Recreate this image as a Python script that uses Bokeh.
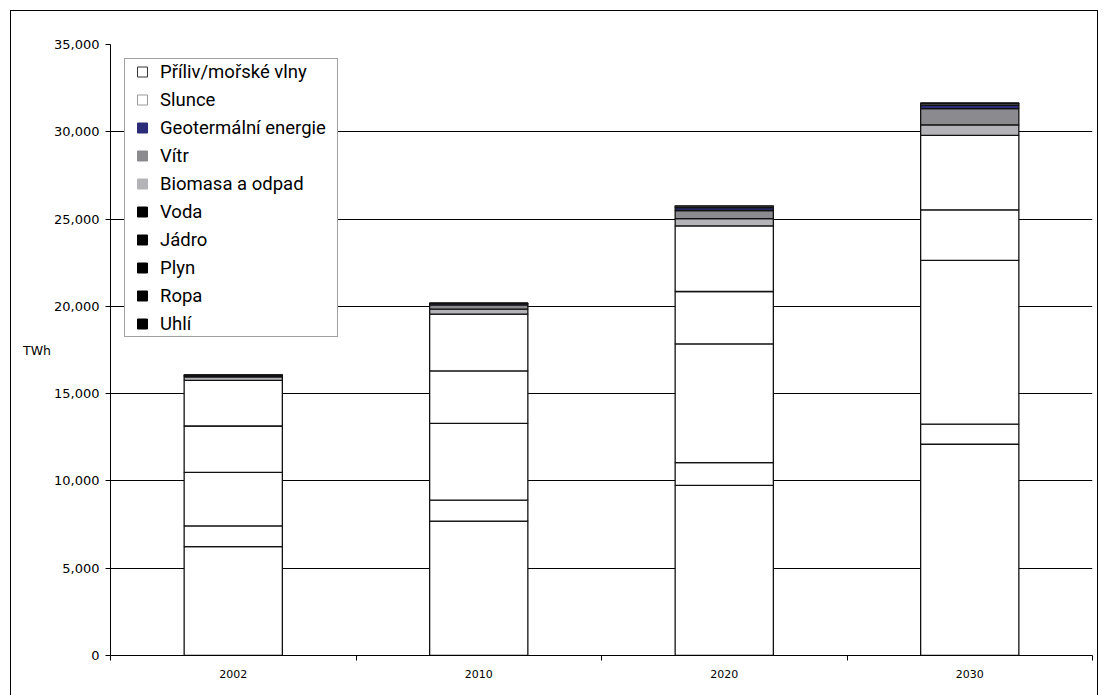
from bokeh.plotting import figure
from bokeh.models import FixedTicker, Legend, LegendItem, NumeralTickFormatter, ColumnDataSource
from bokeh.embed import file_html
from bokeh.resources import INLINE

# World electricity generation by source, TWh
years = ["2002", "2010", "2020", "2030"]
uhli = [6241, 7700, 9750, 12100]
ropa = [1181, 1200, 1300, 1150]
plyn = [3070, 4400, 6800, 9380]
jadro = [2654, 3000, 3000, 2900]
voda = [2610, 3250, 3760, 4270]
biomasa = [207, 290, 410, 600]
vitr = [52, 250, 470, 930]
geotermalni = [50, 80, 170, 200]
slunce = [1, 10, 80, 90]
priliv = [1, 1, 20, 30]

series = ["uhli", "ropa", "plyn", "jadro", "voda", "biomasa", "vitr", "geotermalni", "slunce", "priliv"]
names = ["Uhlí", "Ropa", "Plyn", "Jádro", "Voda", "Biomasa a odpad", "Vítr",
         "Geotermální energie", "Slunce", "Příliv/mořské vlny"]
bar_colors = ["white", "white", "white", "white", "white", "#b4b4b8", "#8b8b8f", "#2b2b78", "white", "white"]
key_colors = ["black", "black", "black", "black", "black", "#b4b4b8", "#8b8b8f", "#2b2b78", "white", "white"]
key_lines = ["black", "black", "black", "black", "black", "#b4b4b8", "#8b8b8f", "#2b2b78", "#999999", "#333333"]

xpos = [i + 0.5 for i in range(len(years))]
source = ColumnDataSource(dict(x=xpos, uhli=uhli, ropa=ropa, plyn=plyn, jadro=jadro, voda=voda,
                               biomasa=biomasa, vitr=vitr, geotermalni=geotermalni,
                               slunce=slunce, priliv=priliv))

p = figure(width=1088, height=686, x_range=(0, 4), y_range=(0, 35000),
           output_backend="svg", toolbar_location=None,
           min_border_left=99, min_border_right=7, min_border_top=33, min_border_bottom=42)
p.margin = (10, 0, 0, 10)
p.styles = {"border": "1px solid black"}
p.outline_line_color = None
p.background_fill_color = "white"

# horizontal grid
p.xgrid.grid_line_color = None
p.ygrid.grid_line_color = "black"
p.ygrid.grid_line_width = 1
p.ygrid.ticker = FixedTicker(ticks=list(range(0, 35001, 5000)))

p.vbar_stack(series, x="x", width=0.4, source=source, fill_color=bar_colors,
             line_color="#111111", line_width=1.3)

# y axis
p.yaxis.ticker = FixedTicker(ticks=list(range(0, 35001, 5000)))
p.yaxis.formatter = NumeralTickFormatter(format="0,0")
p.yaxis.axis_line_color = "black"
p.yaxis.major_tick_out = 5
p.yaxis.major_tick_in = 0
p.yaxis.minor_tick_line_color = None
p.yaxis.major_label_text_font = "DejaVu Sans"
p.yaxis.major_label_text_font_size = "13px"
p.yaxis.major_label_text_color = "black"
p.yaxis.major_label_standoff = 6
p.yaxis.axis_label = "TWh"
p.yaxis.axis_label_orientation = "horizontal"
p.yaxis.axis_label_text_font = "DejaVu Sans"
p.yaxis.axis_label_text_font_style = "normal"
p.yaxis.axis_label_text_font_size = "12.5px"
p.yaxis.axis_label_text_color = "black"
p.yaxis.axis_label_standoff = 0

# x axis: labels at the bar centres, ticks between categories
p.xaxis.ticker = FixedTicker(ticks=xpos, minor_ticks=[0, 1, 2, 3, 4])
p.xaxis.major_label_overrides = {x: y for x, y in zip(xpos, years)}
p.xaxis.major_tick_line_color = None
p.xaxis.minor_tick_out = 5
p.xaxis.minor_tick_in = 0
p.xaxis.minor_tick_line_color = "black"
p.xaxis.axis_line_color = "black"
p.xaxis.major_label_text_font = "DejaVu Sans"
p.xaxis.major_label_text_font_size = "11px"
p.xaxis.major_label_text_color = "black"
p.xaxis.major_label_standoff = 8

# legend keys (one point each, placed outside the visible range)
items = []
for name, col, lc in reversed(list(zip(names, key_colors, key_lines))):
    r = p.scatter(x=[-5], y=[-5000], marker="square", size=10, fill_color=col,
                  line_color=lc, line_width=1)
    items.append(LegendItem(label=name, renderers=[r]))

legend = Legend(items=items, location=(14, 318), orientation="vertical")
legend.label_text_font = "Roboto"
legend.label_text_font_size = "18.5px"
legend.label_text_color = "black"
legend.label_height = 25
legend.label_width = 177
legend.glyph_height = 25
legend.glyph_width = 34
legend.spacing = 3
legend.padding = 0
legend.margin = 0
legend.label_standoff = 1
legend.border_line_color = "#444444"
legend.border_line_width = 1
legend.background_fill_alpha = 1
p.add_layout(legend)

open("out.html", "w").write(file_html(p, INLINE))
